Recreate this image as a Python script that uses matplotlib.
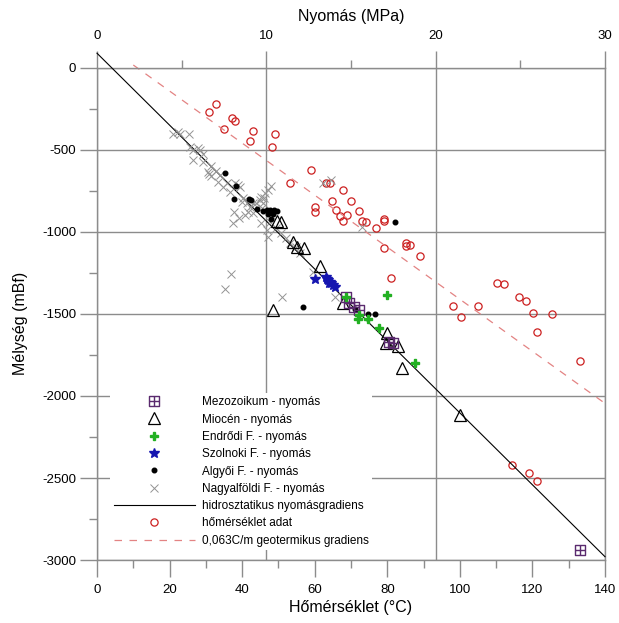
import numpy as np
import matplotlib.pyplot as plt
from matplotlib.path import Path
from matplotlib.ticker import MultipleLocator, FixedLocator

plt.rcParams['font.family'] = ['Liberation Sans', 'DejaVu Sans']
plt.rcParams['axes.unicode_minus'] = False

# nyomás adatok: nyomás (MPa) és mélység (mBf)
mezo_p = [14.68, 14.91, 15.15, 15.45, 17.23, 17.46, 28.54]
mezo_d = [-1396, -1433, -1457, -1476, -1669, -1675, -2939]

mioc_p = [10.63, 10.89, 11.57, 11.79, 12.21, 13.14, 10.39, 14.55, 17.04, 17.10, 17.76, 18.02, 21.43]
mioc_d = [-933, -942, -1064, -1092, -1098, -1207, -1478, -1435, -1677, -1613, -1695, -1831, -2113]

endr_p = [14.68, 15.49, 15.41, 15.99, 16.63, 17.14, 18.75]
endr_d = [-1398, -1506, -1532, -1532, -1585, -1386, -1800]

szol_p = [12.90, 13.52, 13.59, 13.65, 13.69, 13.74, 13.82, 13.91, 14.04]
szol_d = [-1287, -1274, -1284, -1293, -1308, -1303, -1311, -1321, -1335]

algy_p = [7.54, 8.19, 8.08, 8.98, 9.11, 9.45, 9.79, 10.01, 10.22, 10.44,
          10.61, 10.09, 10.39, 10.29, 12.19, 15.26, 15.99, 16.41, 17.61]
algy_d = [-640, -720, -796, -799, -805, -857, -872, -866, -866, -866,
          -872, -890, -893, -921, -1456, -1470, -1500, -1500, -937]

nagy_p = [4.48, 4.78, 4.89, 5.42, 5.49, 5.66, 5.64, 5.96, 6.06, 6.26,
          6.24, 6.56, 6.60, 6.71, 6.75, 7.05, 7.16, 7.24, 7.44, 7.65,
          7.84, 8.14, 8.31, 8.42, 8.61, 8.59, 8.08, 8.01, 8.38, 8.72,
          8.83, 8.91, 9.02, 9.21, 9.20, 9.41, 9.60, 9.71, 9.90, 9.88,
          10.09, 10.29, 9.79, 9.75, 9.71, 10.01, 10.09, 10.20, 10.59, 10.89,
          11.19, 11.38, 11.76, 11.96, 7.89, 7.54, 10.93, 14.04, 13.82, 13.33,
          15.62, 12.73]
nagy_d = [-402, -393, -402, -402, -479, -500, -561, -488, -500, -571,
          -524, -632, -646, -598, -659, -628, -693, -652, -724, -701,
          -754, -701, -713, -726, -793, -815, -876, -943, -917, -896,
          -825, -876, -848, -886, -825, -825, -805, -785, -764, -795,
          -744, -720, -825, -856, -947, -988, -1029, -937, -978, -1008,
          -1039, -1069, -1090, -1130, -1258, -1348, -1398, -1398, -683, -703,
          -968, -1244]

# hidrosztatikus nyomásgradiens (végpontok)
hidro_p = [0, 30]
hidro_d = [90, -2980]

# hőmérséklet adatok: hőmérséklet (°C) és mélység (mBf)
hom_t = [30.8, 32.7, 34.9, 37.1, 37.95, 42.1, 42.9, 48.1, 48.96, 53.1,
         59.1, 60.0, 60.0, 63.0, 64.1, 64.9, 66.0, 67.1, 67.9, 67.9,
         69.0, 70.1, 72.1, 73.0, 74.2, 77.0, 79.2, 79.2, 79.2, 85.1,
         85.1, 86.2, 89.1, 81.1, 98.2, 100.2, 105.1, 110.1, 112.2, 116.3,
         118.2, 120.2, 121.3, 125.3, 133.2, 114.3, 119.1, 121.2]
hom_d = [-268, -220, -372, -305, -323, -445, -384, -482, -402, -701,
         -622, -848, -878, -701, -701, -811, -869, -902, -744, -933,
         -896, -811, -872, -933, -942, -977, -921, -936, -1096, -1069,
         -1085, -1079, -1149, -1283, -1451, -1520, -1451, -1309, -1317, -1395,
         -1419, -1492, -1612, -1500, -1787, -2423, -2468, -2516]

# 0,063 C/m geotermikus gradiens (végpontok)
geo_t = [10, 140]
geo_d = [18, -2045]

grid_c = '#8c8c8c'

fig = plt.figure(figsize=(6.19, 6.23), dpi=100)
ax = fig.add_axes([0.1567, 0.1011, 0.8207, 0.7898])
ax2 = ax.twiny()

ax.set_xlim(0, 140)
ax.set_ylim(-3000, 0)
ax2.set_xlim(0, 30)

# négyzet kereszttel jelölő
box_cross = Path([(-1, -1), (1, -1), (1, 1), (-1, 1), (-1, -1),
                  (0, -1), (0, 1), (-1, 0), (1, 0)],
                 [Path.MOVETO, Path.LINETO, Path.LINETO, Path.LINETO, Path.CLOSEPOLY,
                  Path.MOVETO, Path.LINETO, Path.MOVETO, Path.LINETO])

# hőmérséklet az alsó tengelyen
h_hom, = ax.plot(hom_t, hom_d, linestyle='none', marker='o', ms=5.2,
                 mfc='none', mec='#cc2020', mew=0.9, label='hőmérséklet adat')
h_geo, = ax.plot(geo_t, geo_d, color='#e38383', lw=0.9, dashes=(6, 6),
                 clip_on=False, label='0,063C/m geotermikus gradiens')

# nyomás a felső tengelyen
h_hid, = ax2.plot(hidro_p, hidro_d, color='black', lw=0.8, clip_on=False,
                  label='hidrosztatikus nyomásgradiens')
h_nagy, = ax2.plot(nagy_p, nagy_d, linestyle='none', marker='x', ms=5.5,
                   mec='#939393', mew=0.7, label='Nagyalföldi F. - nyomás')
h_algy, = ax2.plot(algy_p, algy_d, linestyle='none', marker='o', ms=3.3,
                   mfc='black', mec='black', label='Algyői F. - nyomás')
h_mioc, = ax2.plot(mioc_p, mioc_d, linestyle='none', marker='^', ms=8,
                   mfc='none', mec='black', mew=0.9, label='Miocén - nyomás')
h_szol, = ax2.plot(szol_p, szol_d, linestyle='none', marker='*', ms=7.5,
                   mfc='#1515b0', mec='#1515b0', label='Szolnoki F. - nyomás')
h_mezo, = ax2.plot(mezo_p, mezo_d, linestyle='none', marker=box_cross, ms=7.5,
                   mfc='none', mec='#5a2a6e', mew=1.0, label='Mezozoikum - nyomás')
h_endr, = ax2.plot(endr_p, endr_d, linestyle='none', marker='P', ms=6,
                   mfc='#22b022', mec='#22b022', label='Endrődi F. - nyomás')

# tengelyek, rácsok
for a in (ax, ax2):
    a.set_axisbelow(True)
    for s in a.spines.values():
        s.set_color(grid_c)
        s.set_linewidth(1.0)
for s in ax2.spines.values():
    s.set_visible(False)

ax.xaxis.set_major_locator(MultipleLocator(20))
ax.xaxis.set_minor_locator(MultipleLocator(10))
ax.yaxis.set_major_locator(MultipleLocator(500))
ax.yaxis.set_minor_locator(MultipleLocator(250))
ax2.xaxis.set_major_locator(MultipleLocator(10))
ax2.xaxis.set_minor_locator(FixedLocator([5, 15, 25]))

ax.tick_params(axis='both', which='both', direction='out', color=grid_c, width=1.0,
               labelsize=9.5, top=False, right=False)
ax.tick_params(axis='both', which='major', length=12)
ax.tick_params(axis='both', which='minor', length=6)
ax.tick_params(axis='x', which='major', pad=5)
ax.tick_params(axis='y', which='major', pad=3)
ax2.tick_params(axis='x', which='both', direction='out', color=grid_c, width=1.0,
                labelsize=9.5, pad=7)
ax2.tick_params(axis='x', which='major', length=12)
ax2.tick_params(axis='x', which='minor', length=6)

ax.yaxis.grid(True, which='major', color=grid_c, lw=1.0)
ax2.xaxis.grid(True, which='major', color=grid_c, lw=1.0)

ax.set_xlabel('Hőmérséklet (°C)', fontsize=11.5)
ax.xaxis.set_label_coords(0.5, -0.082)
ax2.set_xlabel('Nyomás (MPa)', fontsize=11.5)
ax2.xaxis.set_label_coords(0.5, 1.095)
ax.set_ylabel('Mélység (mBf)', fontsize=11.5)
ax.yaxis.set_label_coords(-0.135, 0.48)

handles = [h_mezo, h_mioc, h_endr, h_szol, h_algy, h_nagy, h_hid, h_hom, h_geo]
leg = ax2.legend(handles=handles, loc='upper left', bbox_to_anchor=(0.026, 0.34),
                 fontsize=8.5, frameon=True, facecolor='white', edgecolor='none',
                 framealpha=1, fancybox=False, handlelength=6.9, handletextpad=0.55,
                 labelspacing=0.45, borderpad=0.3, borderaxespad=0)
leg.set_zorder(10)

fig.savefig('out.png', dpi=100)
